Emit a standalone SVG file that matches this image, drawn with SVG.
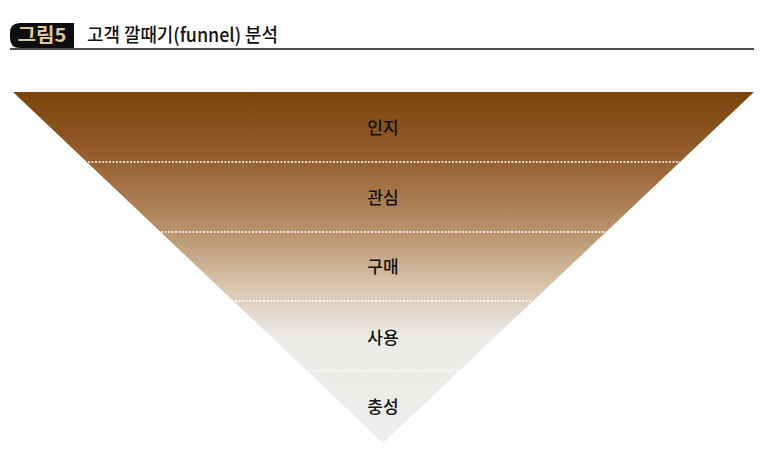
<svg xmlns="http://www.w3.org/2000/svg" width="770" height="471" viewBox="0 0 770 471">
<style>
.lbl{font-family:"Noto Sans CJK KR","Noto Sans",sans-serif;font-size:17px;font-weight:500;fill:#111;text-anchor:middle}
.div{stroke:#fff;stroke-width:1.5;stroke-dasharray:2 1.5;fill:none}
</style>
<defs>
<linearGradient id="fg" x1="0" y1="92" x2="0" y2="443" gradientUnits="userSpaceOnUse">
<stop offset="0" stop-color="#7A440C"/>
<stop offset="0.2" stop-color="#976132"/>
<stop offset="0.4" stop-color="#BA946E"/>
<stop offset="0.55" stop-color="#D8C4AC"/>
<stop offset="0.7" stop-color="#EDEBE8"/>
<stop offset="1" stop-color="#EDEDEB"/>
</linearGradient>
</defs>
<rect width="770" height="471" fill="#fff"/>
<g id="header">
<path d="M20 23 H74 V48 H20 Q10 48 10 38 V33 Q10 23 20 23 Z" fill="#0d0d0d"/>
<text x="42" y="42" font-family="'Noto Sans CJK KR',sans-serif" font-size="19" font-weight="bold" fill="#D9C99C" text-anchor="middle" textLength="49" lengthAdjust="spacingAndGlyphs">그림5</text>
<text x="87" y="42" font-family="'Noto Sans CJK KR',sans-serif" font-size="19" font-weight="500" fill="#111" textLength="191" lengthAdjust="spacingAndGlyphs">고객 깔때기(funnel) 분석</text>
<line x1="10" y1="49" x2="754" y2="49" stroke="#111" stroke-width="1.5"/>
</g>
<g id="funnel">
<polygon points="13,92 754,92 383,443" fill="url(#fg)"/>
</g>
<g id="connectors">
<line class="div" x1="88" y1="162" x2="680" y2="162"/>
<line class="div" x1="161" y1="232" x2="606" y2="232"/>
<line class="div" x1="235" y1="301" x2="532" y2="301"/>
<line class="div" x1="309" y1="371" x2="458" y2="371"/>
</g>
<g id="n1"><text class="lbl" x="383" y="134">인지</text></g>
<g id="n2"><text class="lbl" x="383" y="204">관심</text></g>
<g id="n3"><text class="lbl" x="383" y="273">구매</text></g>
<g id="n4"><text class="lbl" x="383" y="344">사용</text></g>
<g id="n5"><text class="lbl" x="383" y="413">충성</text></g>
</svg>
